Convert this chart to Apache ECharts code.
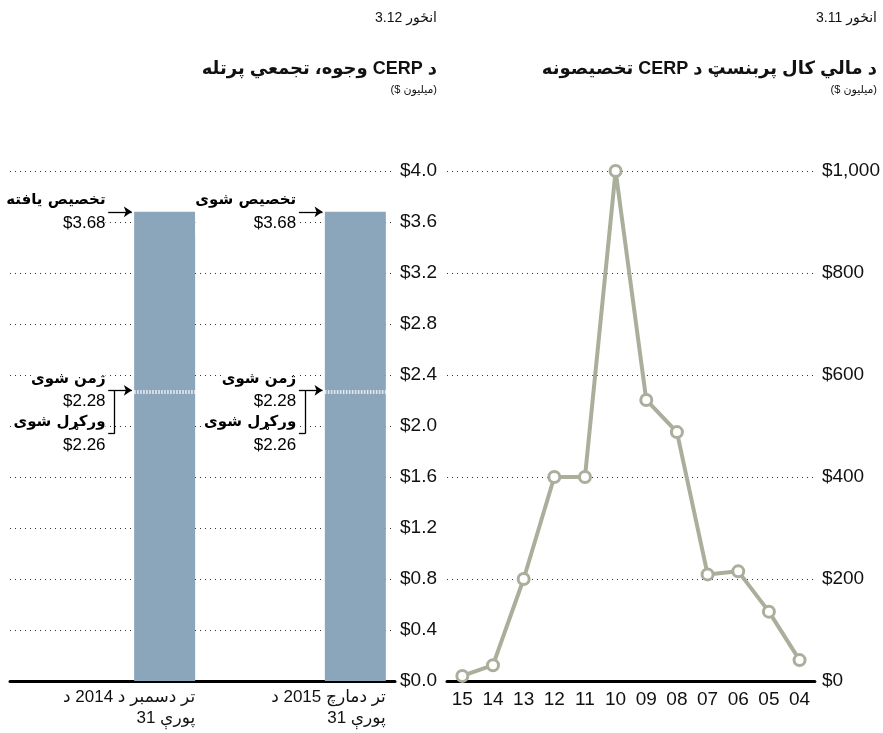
<!DOCTYPE html>
<html><head><meta charset="utf-8">
<script src="https://cdn.jsdelivr.net/npm/echarts@6/dist/echarts.min.js"></script>
<style>html,body{margin:0;padding:0;background:#fff}#c{width:883px;height:733px}</style>
</head><body><div id="c"></div>
<script>
// ---------- data ----------
const fyCategories = ['15','14','13','12','11','10','09','08','07','06','05','04'];
const fyAllocations = [10, 31, 200, 400, 400, 1000, 551, 488, 209, 215, 136, 41];

const LRM = '\u200E', LRE = '\u202A', RLE = '\u202B', PDF = '\u202C';
const periodLabels = [
  LRE + 'د' + LRM + ' 2014 د' + LRM + ' دسمبر' + LRM + ' تر' + PDF + '\n' + LRE + '31 پورې' + PDF,
  LRE + 'د' + LRM + ' 2015 دمارچ' + LRM + ' تر' + PDF + '\n' + LRE + '31 پورې' + PDF
];
const allocated = [3.68, 3.68];
const committed = [2.28, 2.28];
const disbursed = [2.26, 2.26];
const allocTitles = ['تخصیص یافته', 'تخصیص شوی'];
const committedTitle = 'ژمن شوی';
const disbursedTitle = 'ورکړل شوی';

const rightTitle = 'د مالي کال پربنسټ د CERP تخصیصونه';
const leftTitle = 'د CERP وجوه، تجمعي پرتله';
const rightFig = 'انځور 3.11';
const leftFig = 'انځور 3.12';
const unitText = '($ میلیون)';

// ---------- styling ----------
const FONT = "'Liberation Sans', 'DejaVu Sans', sans-serif";
const BAR_COLOR = '#8BA5BA';
const LINE_COLOR = '#AAAF9C';
const TEXT = '#111';
const GRID_LINE = {show: true, lineStyle: {color: '#333', width: 1.1, type: [1, 4]}};

// annotation layout offsets (in bar-axis units, relative to each bar centre)
const BAR_WIDTH = 61, HALF_BAR = 0.16;
const LABEL_X = -0.31, ARROW_X0 = -0.296, ARROW_X1 = -0.172, BRACKET_X = -0.262, DISB_DROP = 0.32;

const annData = [];
const annLines = [];
const barMarks = [];
allocated.forEach((v, i) => {
  annData.push({value: [i + LABEL_X, v], label: {formatter: `{t|${allocTitles[i]}}\n{n|$${v.toFixed(2)}}`}});
  annData.push({value: [i + LABEL_X, committed[i]], label: {formatter: `{t|${committedTitle}}\n{n|$${committed[i].toFixed(2)}}`}});
  annData.push({value: [i + LABEL_X, disbursed[i] - DISB_DROP], label: {formatter: `{t|${disbursedTitle}}\n{n|$${disbursed[i].toFixed(2)}}`}});
  annLines.push([{coord: [i + ARROW_X0, v], symbol: 'none'}, {coord: [i + ARROW_X1, v], symbol: 'arrow'}]);
  annLines.push([{coord: [i + ARROW_X0, committed[i]], symbol: 'none'}, {coord: [i + ARROW_X1, committed[i]], symbol: 'arrow'}]);
  annLines.push([{coord: [i + BRACKET_X, committed[i]], symbol: 'none'}, {coord: [i + BRACKET_X, disbursed[i] - DISB_DROP], symbol: 'none'}]);
  annLines.push([{coord: [i + ARROW_X0, disbursed[i] - DISB_DROP], symbol: 'none'}, {coord: [i + BRACKET_X, disbursed[i] - DISB_DROP], symbol: 'none'}]);
  barMarks.push([{coord: [i - HALF_BAR, committed[i]]}, {coord: [i + HALF_BAR, committed[i]]}]);
  barMarks.push([{coord: [i - HALF_BAR, disbursed[i]]}, {coord: [i + HALF_BAR, disbursed[i]]}]);
});

const labelBase = {
  show: true, position: 'left', distance: 0, align: 'right', verticalAlign: 'middle',
  backgroundColor: '#fff', padding: [0, 0, 0, 0], color: '#000', opacity: 1,
  rich: {
    t: {fontSize: 15, fontWeight: 'bold', fontFamily: "'DejaVu Sans', sans-serif", lineHeight: 23, color: '#000', align: 'right'},
    n: {fontSize: 17, fontFamily: FONT, lineHeight: 23, color: '#000', align: 'right'}
  }
};
annData.forEach(d => { d.label = Object.assign({}, labelBase, d.label); });

const chart = echarts.init(document.getElementById('c'), null, {renderer: 'canvas'});
const titleStyle = (size, weight) => ({fontSize: size, fontWeight: weight, color: TEXT, fontFamily: FONT});
chart.setOption({
  animation: false,
  backgroundColor: '#fff',
  textStyle: {fontFamily: FONT, color: TEXT},
  title: [
    {text: RLE + rightFig + PDF, right: 6, top: 11, padding: 0, textStyle: titleStyle(14, 'normal')},
    {text: RLE + leftFig + PDF, right: 446, top: 11, padding: 0, textStyle: titleStyle(14, 'normal')},
    {text: RLE + rightTitle + PDF, right: 6, top: 60, padding: 0, textStyle: titleStyle(18, 'bold')},
    {text: RLE + leftTitle + PDF, right: 446, top: 60, padding: 0, textStyle: titleStyle(18, 'bold')},
    {text: unitText, right: 6, top: 84, padding: 0, textStyle: titleStyle(11, 'normal')},
    {text: unitText, right: 446, top: 84, padding: 0, textStyle: titleStyle(11, 'normal')}
  ],
  grid: [
    {left: 10, right: 488, top: 171, bottom: 52},
    {left: 447, right: 60, top: 171, bottom: 52}
  ],
  xAxis: [
    {type: 'value', gridIndex: 0, min: -0.811, max: 1.208,
     axisLine: {show: true, onZero: false, lineStyle: {color: '#000', width: 3}},
     axisTick: {show: false}, axisLabel: {show: false}, splitLine: {show: false}},
    {type: 'category', gridIndex: 1, data: fyCategories, boundaryGap: true,
     axisLine: {show: true, lineStyle: {color: '#000', width: 3}},
     axisTick: {show: false},
     axisLabel: {fontSize: 19, color: TEXT, margin: 9, fontFamily: FONT},
     splitLine: {show: false}}
  ],
  yAxis: [
    {type: 'value', gridIndex: 0, position: 'right', min: 0, max: 4, interval: 0.4,
     axisLine: {show: false}, axisTick: {show: false},
     axisLabel: {fontSize: 19, color: TEXT, margin: 5, fontFamily: FONT, formatter: v => '$' + v.toFixed(1)},
     splitLine: GRID_LINE},
    {type: 'value', gridIndex: 1, position: 'right', min: 0, max: 1000, interval: 200,
     axisLine: {show: false}, axisTick: {show: false},
     axisLabel: {fontSize: 19, color: TEXT, margin: 7, fontFamily: FONT, formatter: v => '$' + v.toLocaleString('en-US')},
     splitLine: GRID_LINE}
  ],
  series: [
    {type: 'bar', xAxisIndex: 0, yAxisIndex: 0, barWidth: BAR_WIDTH, silent: true,
     itemStyle: {color: BAR_COLOR},
     label: {show: true, position: 'bottom', distance: 6, align: 'right', offset: [BAR_WIDTH / 2, 0],
             fontSize: 17, lineHeight: 21, color: TEXT, fontFamily: FONT,
             formatter: p => periodLabels[p.dataIndex]},
     data: allocated.map((v, i) => [i, v]),
     markLine: {silent: true, symbol: 'none', label: {show: false}, emphasis: {disabled: true},
                lineStyle: {color: '#fff', width: 1.6, type: [1.6, 1.4]},
                data: barMarks}},
    {type: 'scatter', xAxisIndex: 0, yAxisIndex: 0, symbolSize: 0, silent: true, z: 5,
     label: labelBase,
     data: annData,
     markLine: {silent: true, symbolSize: 8, label: {show: false},
                lineStyle: {color: '#000', width: 1.3, type: 'solid'},
                emphasis: {disabled: true},
                data: annLines}},
    {type: 'line', xAxisIndex: 1, yAxisIndex: 1, data: fyAllocations,
     symbol: 'circle', symbolSize: 11, showSymbol: true, silent: true,
     lineStyle: {color: LINE_COLOR, width: 4},
     itemStyle: {color: '#fff', borderColor: LINE_COLOR, borderWidth: 3}}
  ]
});
</script></body></html>
